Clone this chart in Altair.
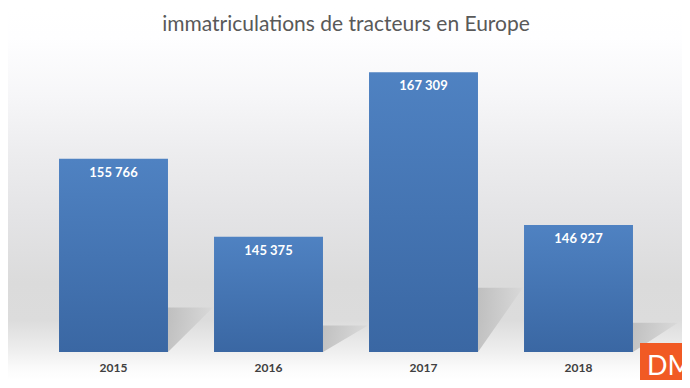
import altair as alt
import pandas as pd

# ---- data ----
years = ["2015", "2016", "2017", "2018"]
registrations = [155766, 145375, 167309, 146927]
y_min, y_max = 130000, 170000
title_text = "immatriculations de tracteurs en Europe"
logo_text = "DM"

labels = [f"{v:,}".replace(",", " ") for v in registrations]
df = pd.DataFrame({"year": years, "value": registrations, "label": labels})

# decorative drop shadows (derived from the bars)
pad_inner, pad_outer = 0.297, 0.1485
rows = []
for i, (yr, v) in enumerate(zip(years, registrations)):
    top = y_min + 0.23 * (v - y_min)
    right = i + pad_outer + (1 - pad_inner)
    rows.append({"year": yr, "sx": right, "sy": top, "sy2": y_min})
    rows.append({"year": yr, "sx": right + 0.29, "sy": top, "sy2": top})
shadow_df = pd.DataFrame(rows)

FONT = "Lato"
W, H = 620, 300
PAD = {"left": 28, "top": 44, "right": 26, "bottom": 28}

yscale = alt.Scale(domain=[y_min, y_max], zero=False, nice=False, range=[H, 0])
xscale = alt.Scale(paddingInner=pad_inner, paddingOuter=pad_outer, range=[0, W])

one = pd.DataFrame({"a": [0]})

bg = alt.Chart(one).mark_rect(
    color=alt.Gradient(
        gradient="linear", x1=0, x2=0, y1=0, y2=1,
        stops=[
            alt.GradientStop(offset=0.0, color="#ffffff"),
            alt.GradientStop(offset=0.08, color="#fefeff"),
            alt.GradientStop(offset=0.24, color="#f6f6f8"),
            alt.GradientStop(offset=0.40, color="#ececee"),
            alt.GradientStop(offset=0.57, color="#e3e3e5"),
            alt.GradientStop(offset=0.74, color="#dbdbdb"),
            alt.GradientStop(offset=0.84, color="#dcdcdc"),
            alt.GradientStop(offset=0.92, color="#eeeeee"),
            alt.GradientStop(offset=0.97, color="#fbfbfb"),
            alt.GradientStop(offset=1.0, color="#ffffff"),
        ],
    )
).encode(
    x=alt.value(-PAD["left"]), x2=alt.value(W + PAD["right"]),
    y=alt.value(-PAD["top"]), y2=alt.value(H + PAD["bottom"]),
)

bars = alt.Chart(df).mark_bar(
    color=alt.Gradient(
        gradient="linear", x1=0, x2=0, y1=0, y2=1,
        stops=[
            alt.GradientStop(offset=0.0, color="#4f82c2"),
            alt.GradientStop(offset=1.0, color="#3a67a3"),
        ],
    )
).encode(
    x=alt.X(
        "year:N",
        scale=xscale,
        sort=years,
        axis=alt.Axis(
            title=None, orient="bottom", labelAngle=0, labelFont=FONT,
            labelFontWeight="bold", labelFontSize=12, labelColor="#404040",
            ticks=False, domain=False, labelPadding=10, grid=False, zindex=2,
        ),
    ),
    y=alt.Y("value:Q", scale=yscale, axis=None),
    y2=alt.datum(y_min),
)

text = alt.Chart(df).mark_text(
    color="white", font=FONT, fontWeight="bold", fontSize=13, dy=14, baseline="middle"
).encode(
    x=alt.X("year:N", scale=xscale, sort=years),
    y=alt.Y("value:Q", scale=yscale),
    text="label:N",
)

bar_layer = alt.layer(bars, text)

shadows = alt.Chart(shadow_df).mark_area(
    color=alt.Gradient(
        gradient="linear", x1=0, x2=1, y1=0, y2=0,
        stops=[
            alt.GradientStop(offset=0.0, color="#b8b8b8"),
            alt.GradientStop(offset=1.0, color="#d8d8d8"),
        ],
    ),
    opacity=0.8,
).encode(
    x=alt.X("sx:Q", scale=alt.Scale(domain=[0, 4], nice=False, zero=False, range=[0, W]), axis=None),
    y=alt.Y("sy:Q", scale=yscale, axis=None),
    y2="sy2:Q",
    detail="year:N",
)

logo_rect = alt.Chart(one).mark_rect(color="#f15a24").encode(
    x=alt.value(604), x2=alt.value(W + PAD["right"]),
    y=alt.value(291), y2=alt.value(H + PAD["bottom"]),
)
logo = alt.Chart(pd.DataFrame({"t": [logo_text]})).mark_text(
    color="white", font=FONT, fontSize=27, align="left", baseline="alphabetic"
).encode(x=alt.value(611), y=alt.value(323), text="t:N")

chart = alt.layer(bg, shadows, bar_layer, logo_rect, logo).resolve_scale(
    x="independent"
).resolve_axis(x="independent").properties(
    width=W,
    height=H,
    title=alt.TitleParams(
        title_text, font=FONT, fontSize=21, fontWeight="normal",
        color="#595959", offset=-27, anchor="middle",
    ),
    autosize=alt.AutoSizeParams(type="none"),
    padding=PAD,
).configure_view(stroke=None)

chart.save("out.html", embed_options={"renderer": "svg", "actions": False})
